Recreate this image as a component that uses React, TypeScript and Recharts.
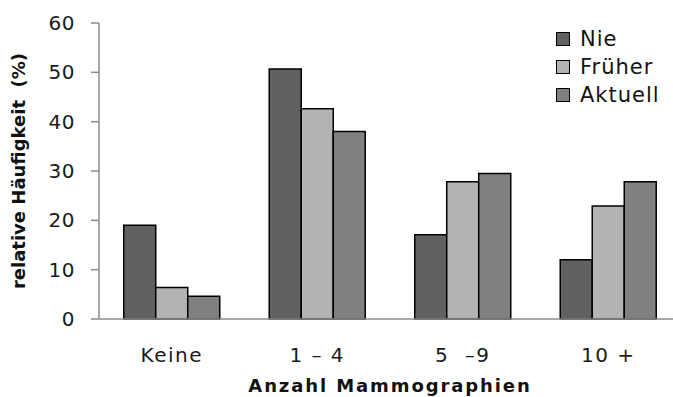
import React from 'react';
import { BarChart, Bar, XAxis, YAxis, Legend, Label } from 'recharts';

const categories = ['Keine', '1 – 4', '5\u00a0 –9', '10 +'];
const nie = [19, 50.7, 17.1, 12];
const frueher = [6.4, 42.6, 27.8, 22.9];
const aktuell = [4.6, 38, 29.5, 27.8];
const seriesNames = ['Nie', 'Früher', 'Aktuell'];
const seriesColors = ['#616161', '#b3b3b3', '#808080'];
const yTicks = [0, 10, 20, 30, 40, 50, 60];
const edgeTicks = [0, 1, 2, 3, 4];

const seriesValues = [nie, frueher, aktuell];
const data = categories.map((c, i) => {
  const row: Record<string, string | number> = { cat: c };
  seriesNames.forEach((s, k) => {
    row[s] = seriesValues[k][i];
  });
  return row;
});

const FONT = '"DejaVu Sans", Verdana, sans-serif';
const AXIS = '#8c8c8c';

const renderLegend = (props: any) => {
  const payload = [...(props.payload || [])].sort(
    (a: any, b: any) => seriesNames.indexOf(a.value) - seriesNames.indexOf(b.value)
  );
  return (
    <div style={{ display: 'flex', flexDirection: 'column' }}>
      {payload.map((entry: any) => (
        <div key={entry.value} style={{ display: 'flex', alignItems: 'center', height: 28 }}>
          <span
            style={{
              display: 'inline-block',
              width: 12,
              height: 12,
              background: entry.color,
              border: '1.5px solid #000',
              marginRight: 10,
            }}
          />
          <span style={{ fontFamily: FONT, fontSize: 21, color: '#111', lineHeight: '28px', letterSpacing: 1 }}>
            {entry.value}
          </span>
        </div>
      ))}
    </div>
  );
};

export default function App() {
  return (
    <div style={{ position: 'absolute', left: 0, top: 0, width: 673, height: 397, overflow: 'hidden', background: '#fff' }}>
      <BarChart
        width={682}
        height={397}
        data={data}
        margin={{ top: 23, right: 1, left: 0, bottom: 0 }}
        barCategoryGap="17%"
        barGap={0}
      >
        <XAxis
          xAxisId="zCat"
          dataKey="cat"
          height={77}
          axisLine={false}
          tickLine={false}
          tickSize={0}
          tickMargin={28}
          tick={{ fontSize: 20, fill: '#1a1a1a', fontFamily: FONT, letterSpacing: 1.5 }}
          interval={0}
        >
          <Label
            value="Anzahl Mammographien"
            position="center"
            dy={27}
            style={{ fontSize: 18, fontWeight: 'bold', fill: '#111', fontFamily: FONT, letterSpacing: 1.9 }}
          />
        </XAxis>
        <XAxis
          xAxisId="aEdges"
          type="number"
          domain={[0, 4]}
          ticks={edgeTicks}
          allowDataOverflow
          tick={false}
          height={1}
          tickSize={8}
          axisLine={{ stroke: AXIS, strokeWidth: 1.5 }}
          tickLine={{ stroke: AXIS, strokeWidth: 1.5 }}
        />
        <YAxis
          width={99}
          domain={[0, 60]}
          ticks={yTicks}
          interval={0}
          tickSize={8}
          tickMargin={16}
          axisLine={{ stroke: AXIS, strokeWidth: 1.5 }}
          tickLine={{ stroke: AXIS, strokeWidth: 1.5 }}
          tick={{ fontSize: 20, fill: '#1a1a1a', fontFamily: FONT, letterSpacing: 0.5 }}
        >
          <Label
            value={'relative Häufigkeit\u00a0 (%)'}
            angle={-90}
            position="center"
            dx={-31}
            style={{ fontSize: 18, fontWeight: 'bold', fill: '#111', fontFamily: FONT, textAnchor: 'middle' }}
          />
        </YAxis>
        <Legend
          content={renderLegend}
          layout="horizontal"
          verticalAlign="middle"
          align="center"
          wrapperStyle={{ top: 24.5, left: 556, width: 120, height: 84 }}
        />
        {seriesNames.map((s, k) => (
          <Bar
            key={s}
            xAxisId="zCat"
            dataKey={s}
            fill={seriesColors[k]}
            stroke="#000"
            strokeWidth={1.5}
            isAnimationActive={false}
          />
        ))}
      </BarChart>
    </div>
  );
}
